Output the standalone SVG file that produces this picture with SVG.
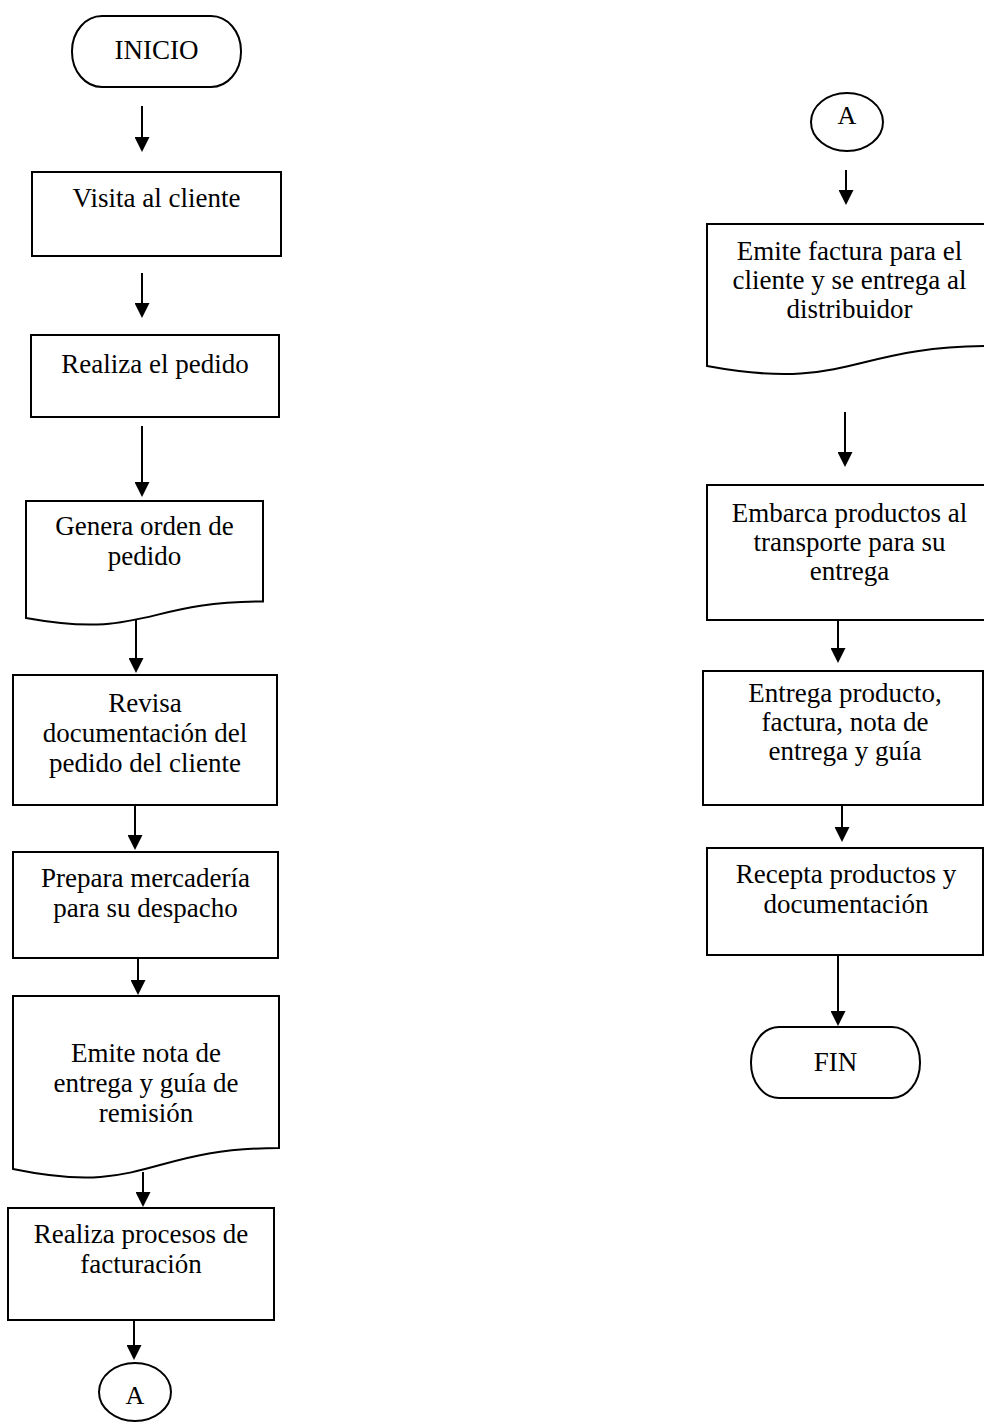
<svg xmlns="http://www.w3.org/2000/svg" width="984" height="1425" viewBox="0 0 984 1425">
<defs>
<style>
.s{fill:#fff;stroke:#000;stroke-width:2}
.t{font-family:"Liberation Serif","Times New Roman",serif;font-size:27px;fill:#000;text-anchor:middle}
.a{font-size:26px}
.c line{stroke:#000;stroke-width:2;marker-end:url(#ah)}
</style>
<marker id="ah" viewBox="0 0 15 15" refX="7" refY="7.5" markerWidth="15" markerHeight="15" markerUnits="userSpaceOnUse" orient="auto">
<path d="M0,0 L15,7.5 L0,15 Z" fill="#000"/>
</marker>
</defs>
<rect width="984" height="1425" fill="#fff"/>
<g id="n1"><rect class="s" x="72" y="16" width="169" height="71" rx="30" ry="35"/><text class="t" x="156.5" y="59">INICIO</text></g>
<g id="n2"><rect class="s" x="32" y="172" width="249" height="84"/><text class="t" x="156.5" y="207">Visita al cliente</text></g>
<g id="n3"><rect class="s" x="31" y="335" width="248" height="82"/><text class="t" x="155" y="373">Realiza el pedido</text></g>
<g id="n4"><path class="s" d="M26,501 H263 V601.5 C144.5,601.5 144.5,639.5 26,618 Z"/><text class="t" x="144.5" y="535">Genera orden de</text><text class="t" x="144.5" y="565">pedido</text></g>
<g id="n5"><rect class="s" x="13" y="675" width="264" height="130"/><text class="t" x="145" y="712">Revisa</text><text class="t" x="145" y="742">documentación del</text><text class="t" x="145" y="772">pedido del cliente</text></g>
<g id="n6"><rect class="s" x="13" y="852" width="265" height="106"/><text class="t" x="145.5" y="887">Prepara mercadería</text><text class="t" x="145.5" y="917">para su despacho</text></g>
<g id="n7"><path class="s" d="M13,996 H279 V1148 C146,1148 146,1196.6 13,1169 Z"/><text class="t" x="146" y="1062">Emite nota de</text><text class="t" x="146" y="1092">entrega y guía de</text><text class="t" x="146" y="1122">remisión</text></g>
<g id="n8"><rect class="s" x="8" y="1208" width="266" height="112"/><text class="t" x="141" y="1243">Realiza procesos de</text><text class="t" x="141" y="1273">facturación</text></g>
<g id="n9"><ellipse class="s" cx="135" cy="1392" rx="36" ry="29"/><text class="t a" x="135" y="1404">A</text></g>
<g id="n10"><ellipse class="s" cx="847" cy="122" rx="36" ry="29"/><text class="t a" x="847" y="124">A</text></g>
<g id="n11"><path class="s" d="M707,224 H992 V346 C849.5,346 849.5,392.3 707,366 Z"/><text class="t" x="849.5" y="260">Emite factura para el</text><text class="t" x="849.5" y="289">cliente y se entrega al</text><text class="t" x="849.5" y="318">distribuidor</text></g>
<g id="n12"><rect class="s" x="707" y="485" width="285" height="135"/><text class="t" x="849.5" y="522">Embarca productos al</text><text class="t" x="849.5" y="551">transporte para su</text><text class="t" x="849.5" y="580">entrega</text></g>
<g id="n13"><rect class="s" x="703" y="671" width="280" height="134"/><text class="t" x="845" y="702">Entrega producto,</text><text class="t" x="845" y="731">factura, nota de</text><text class="t" x="845" y="760">entrega y guía</text></g>
<g id="n14"><rect class="s" x="707" y="848" width="276" height="107"/><text class="t" x="846" y="883">Recepta productos y</text><text class="t" x="846" y="913">documentación</text></g>
<g id="n15"><rect class="s" x="751" y="1027" width="169" height="71" rx="28" ry="35"/><text class="t" x="835.5" y="1071">FIN</text></g>
<g id="connectors" class="c">
<line x1="142" y1="106" x2="142" y2="144"/>
<line x1="142" y1="273" x2="142" y2="310"/>
<line x1="142" y1="426" x2="142" y2="489"/>
<line x1="136" y1="620" x2="136" y2="665"/>
<line x1="135" y1="805" x2="135" y2="842"/>
<line x1="138" y1="958" x2="138" y2="987"/>
<line x1="143" y1="1172" x2="143" y2="1199"/>
<line x1="134" y1="1320" x2="134" y2="1352"/>
<line x1="846" y1="170" x2="846" y2="197"/>
<line x1="845" y1="412" x2="845" y2="459"/>
<line x1="838" y1="620" x2="838" y2="655"/>
<line x1="842" y1="805" x2="842" y2="834"/>
<line x1="838" y1="955" x2="838" y2="1018"/>
</g>
</svg>
